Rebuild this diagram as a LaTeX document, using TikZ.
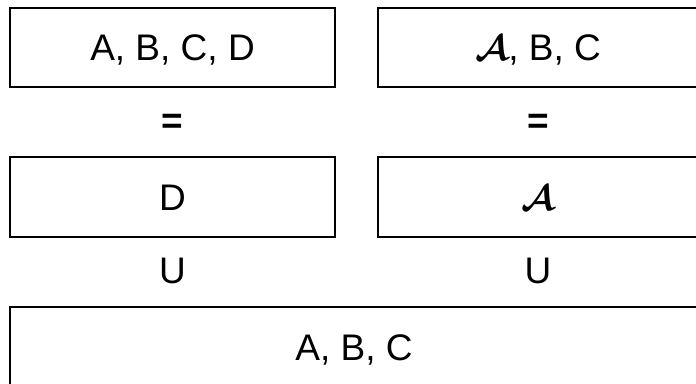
\documentclass[tikz,border=0pt]{standalone}
\usepackage{graphicx}
\usepackage{fontspec}
\setmainfont{Liberation Sans}
\newcommand{\scrA}{\scalebox{3.6}{\normalsize\boldmath$\mathcal{A}$}}
\begin{document}
\begin{tikzpicture}[x=1pt,y=-1pt,
  box/.style={draw=black, line width=1.4pt, inner sep=0pt, minimum height=79pt,
    font=\fontsize{37}{40}\selectfont, text height=26.5pt, text depth=0pt},
  rel/.style={inner sep=0pt, font=\fontsize{37}{40}\selectfont, text height=26.5pt, text depth=0pt}]
\useasboundingbox (0,0) rectangle (696,383);
\clip (0,0) rectangle (696,383);
\node[box, minimum width=325pt] (abcd) at (172.5,47.5) {A, B, C, D};
\node[box, minimum width=320pt] (sabc) at (538,47.5) {\scrA, B, C};
\node[box, minimum width=325pt, minimum height=80pt] (d) at (172.5,197) {D};
\node[box, minimum width=320pt, minimum height=80pt] (s) at (538,197) {\scrA};
\node[box, minimum width=688pt, minimum height=80pt] (abc) at (354,347) {A, B, C};
\node[rel] (eq1) at (172.5,120) {\bfseries =};
\node[rel] (eq2) at (538,120) {\bfseries =};
\node[rel] (u1) at (172.5,270) {U};
\node[rel] (u2) at (538,270) {U};
\end{tikzpicture}
\end{document}
